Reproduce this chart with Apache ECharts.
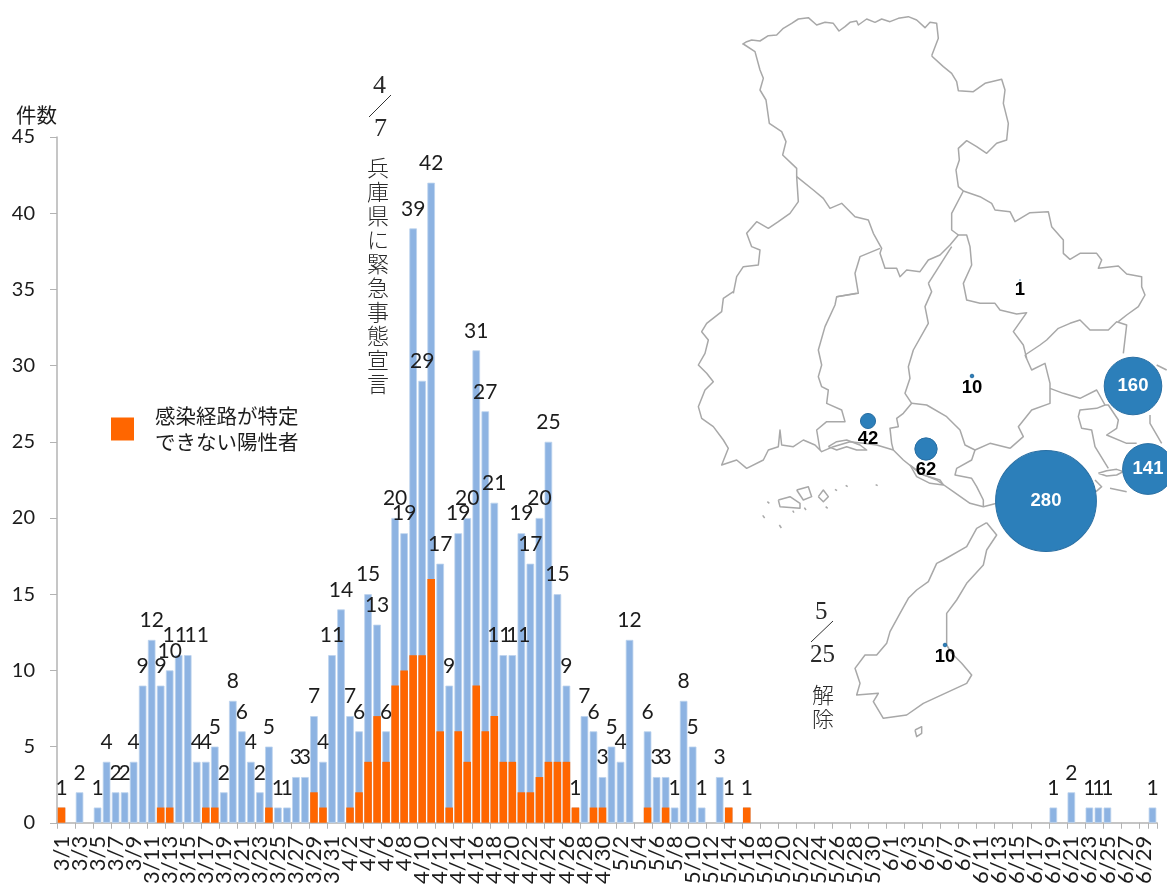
<!DOCTYPE html>
<html lang="ja">
<head>
<meta charset="utf-8">
<style>html,body{margin:0;padding:0;background:#fff;overflow:hidden}#c{width:1167px;height:887px}</style>
<script src="https://cdn.jsdelivr.net/npm/echarts@6/dist/echarts.min.js"></script>
</head>
<body>
<div id="c"></div>
<script>
// ---- chart data ----
const monthLengths = [[3, 31], [4, 30], [5, 31], [6, 30]];
const totalMarch = [1,0,2,0,1,4,2,2,4,9,12,9,10,11,11,4,4,5,2,8,6,4,2,5,1,1,3,3,7,4,11];
const totalApril = [14,7,6,15,13,6,20,19,39,29,42,17,9,19,20,31,27,21,11,11,19,17,20,25,15,9,1,7,6,3];
const totalMay = [5,4,12,0,6,3,3,1,8,5,1,0,3,1,0,1,0,0,0,0,0,0,0,0,0,0,0,0,0,0,0];
const totalJune = [0,0,0,0,0,0,0,0,0,0,0,0,0,0,0,0,0,0,1,0,2,0,1,1,1,0,0,0,0,1];
const unknownMarch = [1,0,0,0,0,0,0,0,0,0,0,1,1,0,0,0,1,1,0,0,0,0,0,1,0,0,0,0,2,1,0];
const unknownApril = [0,1,2,4,7,4,9,10,11,11,16,6,1,6,4,9,6,7,4,4,2,2,3,4,4,4,1,0,1,1];
const unknownMay = [0,0,0,0,1,0,1,0,0,0,0,0,0,1,0,1,0,0,0,0,0,0,0,0,0,0,0,0,0,0,0];
const unknownJune = [0,0,0,0,0,0,0,0,0,0,0,0,0,0,0,0,0,0,0,0,0,0,0,0,0,0,0,0,0,0];
const legendName = '感染経路が特定\nできない陽性者';
const labelNudges = { '3/14': -4, '3/15': 9, '4/19': -4, '4/20': 6 };

// ---- regional bubbles ----
const bubbleValues = [280, 160, 141, 62, 42, 10, 10, 1];
const bubbleSpots = [[1046,501],[1133,386],[1148,469],[926,449],[868,421],[972,376],[945,645],[1020,280]];

const cropA = p => [680 + p[0] / 3, 20 + p[1] / 3];
const cropB = p => [680 + p[0] / 3, 400 + p[1] / 3];
const cropC = p => [690 + p[0] / 3, 290 + p[1] / 3];
const cropD = p => [960 + p[0] / 3, 320 + p[1] / 3];
const cropE = p => [735 + p[0] / 3, 15 + p[1] / 3];
const bordersE = [
 [[22,88],[35,80],[50,75],[75,78],[100,62],[125,60],[145,40],[170,25],[190,12],[220,8],[245,30],[270,22],[295,25],[312,48],[330,35],[345,22],[365,18],[370,30],[395,12],[420,22],[440,12],[465,20],[490,10],[520,5],[545,15],[570,38],[585,22],[605,25],[610,70],[590,122]]
];
const bordersA = [
 [[755,108],[790,140],[815,160],[830,185],[835,212],[880,215],[915,190],[965,178],[975,210],[970,250],[985,310],[980,360],[950,370],[920,400],[890,380],[860,362],[835,385],[838,420],[828,450],[835,500],[850,513],[900,530],[935,550],[945,570],[990,575],[1005,605],[1050,578],[1105,575],[1115,620],[1150,660],[1150,700],[1170,718],[1200,700],[1250,700],[1265,720],[1255,745],[1315,738],[1340,762],[1385,770],[1385,800],[1395,825],[1375,860],[1340,885],[1315,905]],
 [[190,72],[225,95],[240,150],[250,175],[240,210],[258,240],[268,310],[305,335],[318,365],[308,405],[350,445],[350,470],[400,510],[430,535],[450,565],[485,550],[525,590],[565,600],[580,640],[605,685],[600,700],[615,745],[650,745],[660,770],[680,750],[720,755],[745,720],[780,705],[810,675],[835,645],[860,645],[870,680],[875,735],[850,790],[860,840],[900,850],[945,850],[960,870],[1010,882],[1040,878],[1000,935],[1030,975],[1040,1015]],
 [[850,513],[815,580],[815,630],[835,645]],
 [[350,470],[355,545],[330,580],[295,605],[265,625],[230,605],[200,640],[215,680],[240,690],[235,735],[190,740],[170,770],[160,820]],
 [[600,685],[540,710],[525,760],[535,820],[470,830]],
 [[815,680],[745,790]]
];
const bordersB = [
 [[920,368],[890,385],[860,440],[790,480],[770,490],[745,545],[710,570],[685,595],[660,640],[630,695],[620,730],[590,765],[555,765],[525,805],[540,850],[530,885],[595,880],[580,905],[610,955],[680,945],[730,910],[860,850],[875,825],[845,790],[815,760],[800,735],[800,640],[830,600],[860,550],[910,495],[920,450],[950,405],[920,368]],
 [[705,990],[725,980],[725,1000],[710,1010],[705,990]]
];
const bordersC = [
 [[130,5],[100,25],[95,65],[50,100],[35,125],[55,150],[45,190],[25,225],[50,250],[70,275],[45,300],[25,350],[35,385],[70,410],[100,450],[115,475],[95,525],[140,510],[170,535],[220,510],[235,480],[265,470],[270,420],[275,465],[310,470],[340,450],[375,465],[395,485],[430,470],[480,455],[520,460],[560,465],[610,480],[640,510],[690,550],[740,570],[790,605],[840,640],[880,650],[920,640]],
 [[500,10],[440,20],[435,45],[405,110],[385,180],[395,225],[385,260],[395,290],[415,300],[410,340],[455,360],[465,395],[410,395],[380,420],[390,480]],
 [[715,-20],[725,5],[705,50],[715,100],[670,180],[655,230],[660,265],[645,310],[665,340],[640,370],[620,385],[625,410],[600,415],[605,460],[610,480]],
 [[665,340],[710,345],[770,380],[810,420],[825,465],[855,480],[845,510],[800,535],[795,555],[845,565],[860,590],[880,630],[880,650]],
 [[855,480],[900,460],[960,475]],
 [[265,630],[300,620],[330,640],[330,655],[270,650],[265,630]],
 [[320,600],[355,590],[365,620],[340,630],[320,600]],
 [[385,620],[400,600],[415,620],[400,635],[385,620]],
 [[232,635],[238,640]],[[407,650],[413,655]],[[435,598],[441,602]],[[467,586],[473,590]],[[557,584],[563,587]],[[343,653],[348,660]],[[308,662],[312,668]],[[218,676],[224,684]],[[268,705],[274,714]],
 [[415,470],[440,455],[470,450],[510,465],[530,480],[500,480],[470,470],[440,480],[415,470]],
 [[660,525],[700,555],[750,570],[760,585],[720,580],[680,560],[660,525]]
];
const bordersD = [
 [[195,105],[240,75],[260,60],[295,25],[330,10],[360,0],[390,30],[445,30],[470,5],[500,15],[490,100]],
 [[195,105],[215,150],[255,130],[270,190],[270,250],[215,270],[175,320],[190,350],[150,385]],
 [[270,205],[310,220],[360,235],[410,210],[435,255],[445,255],[475,300],[470,325],[440,345],[500,370],[530,370]],
 [[435,255],[410,265],[360,270],[355,290],[365,325],[395,330],[405,380],[445,445]],
 [[415,460],[440,452],[470,448],[490,455],[470,465],[440,468],[415,460]],
 [[405,480],[425,500],[408,515]],[[450,505],[500,515]],
 [[590,135],[620,150]],[[570,285],[570,310],[605,370]]
];
const mapLines = [
 ...bordersE.map(l => l.map(cropE)),
 ...bordersA.map(l => l.map(cropA)),
 ...bordersB.map(l => l.map(cropB)),
 ...bordersC.map(l => l.map(cropC)),
 ...bordersD.map(l => l.map(cropD))
];

// ---- derived ----
const categories = monthLengths.flatMap(([m, n]) => Array.from({ length: n }, (_, i) => m + '/' + (i + 1)));
const totals = [...totalMarch, ...totalApril, ...totalMay, ...totalJune];
const unknowns = [...unknownMarch, ...unknownApril, ...unknownMay, ...unknownJune];
const INK = '#1c1c1c', AXIS = '#b3b3b3';
const LATIN = 'Lato, "Open Sans", sans-serif';
const CJK = '"Noto Sans CJK JP", sans-serif';

const mapSeries = mapLines.map(line => ({
  type: 'line', xAxisIndex: 1, yAxisIndex: 1, data: line, symbol: 'none', silent: true, clip: false,
  lineStyle: { color: '#a8a8a8', width: 1.5, join: 'round' }, z: 1, animation: false
}));

const chart = echarts.init(document.getElementById('c'), null, { renderer: 'canvas' });
chart.setOption({
  animation: false,
  backgroundColor: '#fff',
  legend: {
    data: [legendName], left: 111, top: 403, padding: 0, orient: 'vertical', itemWidth: 23, itemHeight: 23, itemGap: 0,
    icon: 'rect', textStyle: { fontFamily: CJK, fontSize: 20.5, lineHeight: 26, color: INK, padding: [0, 0, 0, 16] }, selectedMode: false
  },
  grid: [
    { left: 57, top: 137, width: 1100, height: 687, containLabel: false },
    { left: 0, top: 0, width: 1167, height: 887, containLabel: false }
  ],
  xAxis: [
    {
      type: 'category', data: categories, gridIndex: 0,
      axisLine: { lineStyle: { color: AXIS, width: 1.5 } },
      axisTick: { show: true, interval: 1, length: 6, lineStyle: { color: AXIS, width: 1 } },
      axisLabel: {
        interval: 0, rotate: 90, margin: 13, color: INK, fontFamily: LATIN, fontSize: 22, hideOverlap: false,
        formatter: (v, i) => (i % 2 === 0 ? v : '')
      }
    },
    { type: 'value', gridIndex: 1, min: 0, max: 1167, show: false }
  ],
  yAxis: [
    {
      type: 'value', gridIndex: 0, min: 0, max: 45, interval: 5,
      name: '件数', nameLocation: 'end', nameGap: 12,
      nameTextStyle: { fontFamily: CJK, fontSize: 20.5, color: INK, align: 'right' },
      splitLine: { show: false },
      axisLine: { show: true, lineStyle: { color: AXIS, width: 1.5 } },
      axisTick: { show: true, length: 7, lineStyle: { color: AXIS, width: 1 } },
      axisLabel: { margin: 22, color: INK, fontFamily: LATIN, fontSize: 20, showMinLabel: true, showMaxLabel: true }
    },
    { type: 'value', gridIndex: 1, min: 0, max: 887, inverse: true, show: false }
  ],
  series: [
    {
      name: '陽性者', type: 'bar', barWidth: 7.6, barGap: '-100%', z: 2,
      itemStyle: { color: '#8DB3E2', borderColor: '#BDD3EE', borderWidth: 0.8 },
      data: totals.map((v, i) => ({
        value: v === 0 ? '-' : v,
        label: { offset: [labelNudges[categories[i]] || 0, 0] }
      })),
      label: { show: true, position: 'top', distance: 9, color: INK, fontFamily: LATIN, fontSize: 21 }
    },
    {
      name: legendName, type: 'bar', barWidth: 7.6, barGap: '-100%', z: 3,
      itemStyle: { color: '#FF6600' },
      data: unknowns.map(v => v === 0 ? '-' : v)
    },
    ...mapSeries,
    {
      name: '地域別', type: 'scatter', xAxisIndex: 1, yAxisIndex: 1, z: 5, clip: false,
      data: bubbleValues.map((v, i) => ({
        value: [bubbleSpots[i][0], bubbleSpots[i][1], v],
        label: v > 100 ? { position: 'inside', color: '#fff' } : {}
      })),
      symbolSize: d => Math.max(d[2] * 0.36, 0.6),
      itemStyle: { color: '#2C7FBA', borderColor: '#2A6FA3', borderWidth: 1, opacity: 1 },
      label: {
        show: true, formatter: p => p.value[2], fontFamily: '"Liberation Sans", sans-serif', fontWeight: 'bold', fontSize: 18.5,
        position: 'bottom', distance: 0, color: '#000'
      }
    }
  ],
  graphic: [
    { type: 'text', left: 373, top: 73, style: { text: '4', font: '26px "Liberation Serif"', fill: '#2a2a2a' } },
    { type: 'line', shape: { x1: 369, y1: 117, x2: 391, y2: 95 }, style: { stroke: '#333', lineWidth: 1 } },
    { type: 'text', left: 374, top: 116, style: { text: '7', font: '26px "Liberation Serif"', fill: '#2a2a2a' } },
    { type: 'text', left: 367, top: 156, style: { text: '兵庫県に緊急事態宣言'.split('').join('\n'), fontFamily: CJK, fontWeight: 300, fontSize: 22, lineHeight: 24, fill: '#2a2a2a' } },
    { type: 'text', left: 815, top: 600, style: { text: '5', font: '25px "Liberation Serif"', fill: '#2a2a2a' } },
    { type: 'line', shape: { x1: 811, y1: 642, x2: 833, y2: 621 }, style: { stroke: '#333', lineWidth: 1 } },
    { type: 'text', left: 810, top: 643, style: { text: '25', font: '25px "Liberation Serif"', fill: '#2a2a2a' } },
    { type: 'text', left: 812, top: 683, style: { text: '解\n除', fontFamily: CJK, fontWeight: 300, fontSize: 22, lineHeight: 24, fill: '#2a2a2a' } }
  ]
});
</script>
</body>
</html>
